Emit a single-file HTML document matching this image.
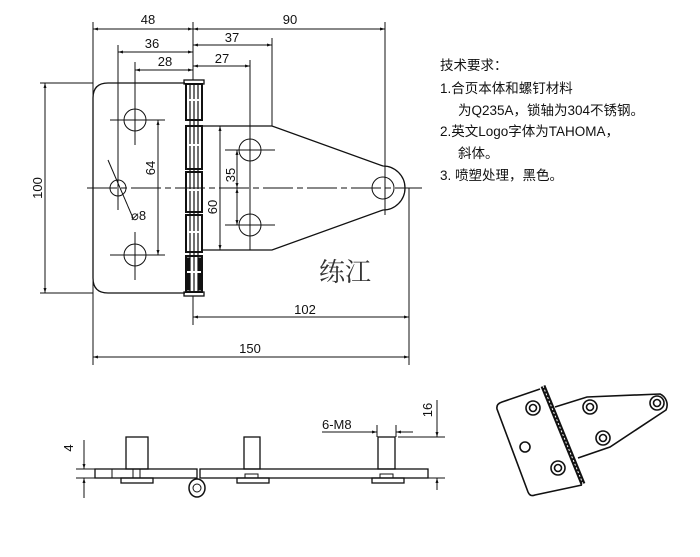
<!DOCTYPE html>
<html><head><meta charset="utf-8"><style>
body{margin:0;background:#fff}
svg text{font-family:"Liberation Sans","Noto Sans CJK SC",sans-serif;fill:#111}
</style></head><body>
<svg width="700" height="552" viewBox="0 0 700 552" xmlns="http://www.w3.org/2000/svg">
<defs><marker id="a" viewBox="0 0 10 10" refX="10" refY="5" markerWidth="7" markerHeight="5" orient="auto-start-reverse"><path d="M0,2 L10,5 L0,8z" fill="#111"/></marker></defs>
<g stroke="#111" fill="none" stroke-width="1">
<!-- left plate -->
<path d="M185,83 H108 Q93,83 93,98 V278 Q93,293 108,293 H185" stroke-width="1.3"/>
<!-- right plate -->
<path d="M202,126 H272 L383,166 A22,22 0 0 1 383,210 L272,250 H202" stroke-width="1.3"/>
<!-- hinge -->
<rect x="184" y="80" width="20" height="4" stroke-width="1.3"/>
<rect x="184" y="292" width="20" height="4" stroke-width="1.3"/>
<g stroke-width="2">
<rect x="186" y="84" width="16" height="36"/>
<rect x="186" y="126" width="16" height="43"/>
<rect x="186" y="172" width="16" height="40"/>
<rect x="186" y="215" width="16" height="37"/>
<rect x="186" y="256" width="16" height="36"/>
</g>
<g stroke-width="1.2">
<line x1="190" y1="84" x2="190" y2="292"/><line x1="194" y1="84" x2="194" y2="292"/><line x1="198" y1="84" x2="198" y2="292"/>
</g>
<rect x="186" y="258" width="4" height="32" fill="#111"/><rect x="198" y="258" width="4" height="32" fill="#111"/>
<g stroke="#fff" stroke-width="2"><line x1="187" y1="100" x2="201" y2="100"/><line x1="187" y1="145" x2="201" y2="145"/><line x1="187" y1="190" x2="201" y2="190"/><line x1="187" y1="232" x2="201" y2="232"/><line x1="187" y1="272" x2="201" y2="272"/></g>
<!-- holes -->
<circle cx="135" cy="120" r="11"/><circle cx="118" cy="188" r="8"/><circle cx="135" cy="255" r="11"/>
<circle cx="250" cy="150" r="11"/><circle cx="250" cy="225" r="11"/><circle cx="383" cy="188" r="11"/>
<!-- center lines -->
<line x1="87" y1="188" x2="422" y2="188" stroke-dasharray="30 4 6 4"/>
<line x1="110" y1="120" x2="165" y2="120"/><line x1="110" y1="255" x2="165" y2="255"/>
<line x1="225" y1="150" x2="275" y2="150"/><line x1="225" y1="225" x2="275" y2="225"/>
<line x1="135" y1="62" x2="135" y2="145"/><line x1="135" y1="232" x2="135" y2="280"/>
<line x1="118" y1="45" x2="118" y2="210"/>
<line x1="250" y1="60" x2="250" y2="250"/>
<line x1="272" y1="38" x2="272" y2="126"/>
<line x1="385" y1="22" x2="385" y2="215"/>
<line x1="193" y1="22" x2="193" y2="80"/><line x1="193" y1="296" x2="193" y2="325"/>
<line x1="93" y1="22" x2="93" y2="365"/>
<line x1="409" y1="188" x2="409" y2="365"/>
<line x1="40" y1="83" x2="93" y2="83"/><line x1="40" y1="293" x2="93" y2="293"/>
<!-- dims -->
<line x1="93" y1="29" x2="193" y2="29" marker-start="url(#a)" marker-end="url(#a)"/>
<line x1="193" y1="29" x2="385" y2="29" marker-start="url(#a)" marker-end="url(#a)"/>
<line x1="193" y1="45" x2="272" y2="45" marker-start="url(#a)" marker-end="url(#a)"/>
<line x1="118" y1="52" x2="193" y2="52" marker-start="url(#a)" marker-end="url(#a)"/>
<line x1="193" y1="66" x2="250" y2="66" marker-start="url(#a)" marker-end="url(#a)"/>
<line x1="135" y1="70" x2="193" y2="70" marker-start="url(#a)" marker-end="url(#a)"/>
<line x1="45" y1="83" x2="45" y2="293" marker-start="url(#a)" marker-end="url(#a)"/>
<line x1="158" y1="120" x2="158" y2="255" marker-start="url(#a)" marker-end="url(#a)"/>
<line x1="237" y1="150" x2="237" y2="188" marker-start="url(#a)" marker-end="url(#a)"/>
<line x1="237" y1="188" x2="237" y2="225" marker-start="url(#a)" marker-end="url(#a)"/>
<line x1="220" y1="126" x2="220" y2="250" marker-start="url(#a)" marker-end="url(#a)"/>
<line x1="193" y1="317" x2="409" y2="317" marker-start="url(#a)" marker-end="url(#a)"/>
<line x1="93" y1="357" x2="409" y2="357" marker-start="url(#a)" marker-end="url(#a)"/>
<line x1="108" y1="160" x2="133" y2="218"/>
<!-- bottom view -->
<rect x="95" y="469" width="102" height="9" stroke-width="1.3"/>
<rect x="200" y="469" width="228" height="9" stroke-width="1.3"/>
<rect x="126" y="437" width="22" height="32" stroke-width="1.3"/>
<rect x="244" y="437" width="16" height="32" stroke-width="1.3"/>
<rect x="378" y="437" width="17" height="32" stroke-width="1.3"/>
<line x1="112" y1="469" x2="112" y2="478"/><line x1="133" y1="469" x2="133" y2="478"/><line x1="140" y1="469" x2="140" y2="478"/>
<rect x="121" y="478" width="32" height="5" stroke-width="1.3"/>
<rect x="237" y="478" width="32" height="5" stroke-width="1.3"/>
<rect x="372" y="478" width="32" height="5" stroke-width="1.3"/>
<rect x="245" y="474" width="13" height="4"/><rect x="380" y="474" width="13" height="4"/>
<ellipse cx="197" cy="488" rx="8" ry="9" stroke-width="1.5"/><circle cx="197" cy="488" r="4"/>
<line x1="76" y1="469" x2="95" y2="469"/><line x1="76" y1="478" x2="95" y2="478"/>
<line x1="84" y1="440" x2="84" y2="469" marker-end="url(#a)"/>
<line x1="84" y1="498" x2="84" y2="478" marker-end="url(#a)"/>
<line x1="398" y1="437" x2="445" y2="437"/><line x1="428" y1="478" x2="445" y2="478"/>
<line x1="437" y1="400" x2="437" y2="437" marker-end="url(#a)"/>
<line x1="437" y1="490" x2="437" y2="478" marker-end="url(#a)"/>
<line x1="322" y1="432" x2="377" y2="432" marker-end="url(#a)"/>
<line x1="413" y1="432" x2="396" y2="432" marker-end="url(#a)"/>
<line x1="377" y1="425" x2="377" y2="437"/><line x1="396" y1="425" x2="396" y2="437"/>
<!-- iso -->
<g stroke-width="1.6">
<path d="M540,389 L502,402 Q496,404 497,409 L528,492 Q530,497 535,495 L582,485"/>
<path d="M555,407 L587,397 L660,394 A12,12 0 0 1 666,410 L610,447 L578,458"/>
<line x1="543" y1="386" x2="583" y2="484" stroke-width="5"/>
<line x1="543" y1="386" x2="583" y2="484" stroke="#fff" stroke-width="1" stroke-dasharray="2 2"/>
<circle cx="533" cy="408" r="7"/><circle cx="533" cy="408" r="3.5"/>
<circle cx="590" cy="407" r="7"/><circle cx="590" cy="407" r="3.5"/>
<circle cx="657" cy="403" r="7"/><circle cx="657" cy="403" r="3.5"/>
<circle cx="603" cy="438" r="7"/><circle cx="603" cy="438" r="3.5"/>
<circle cx="558" cy="468" r="7"/><circle cx="558" cy="468" r="3.5"/>
<circle cx="525" cy="447" r="5"/>
</g>
</g>
<g font-size="13">
<text x="148" y="24" text-anchor="middle">48</text>
<text x="290" y="24" text-anchor="middle">90</text>
<text x="232" y="42" text-anchor="middle">37</text>
<text x="152" y="48" text-anchor="middle">36</text>
<text x="222" y="63" text-anchor="middle">27</text>
<text x="165" y="66" text-anchor="middle">28</text>
<text x="305" y="314" text-anchor="middle">102</text>
<text x="250" y="353" text-anchor="middle">150</text>
<text transform="translate(42,188) rotate(-90)" text-anchor="middle">100</text>
<text transform="translate(155,168) rotate(-90)" text-anchor="middle">64</text>
<text transform="translate(235,175) rotate(-90)" text-anchor="middle">35</text>
<text transform="translate(217,207) rotate(-90)" text-anchor="middle">60</text>
<text x="131" y="220">⌀8</text>
<text x="322" y="429">6-M8</text>
<text transform="translate(73,448) rotate(-90)" text-anchor="middle">4</text>
<text transform="translate(432,410) rotate(-90)" text-anchor="middle">16</text>
</g>
<text x="345" y="281" font-size="26" text-anchor="middle" style="font-family:'Noto Serif CJK SC',serif;fill:#333">练江</text>
<g font-size="13.5">
<text x="440" y="70">技术要求：</text>
<text x="440" y="93">1.合页本体和螺钉材料</text>
<text x="458" y="115">为Q235A，锁轴为304不锈钢。</text>
<text x="440" y="136">2.英文Logo字体为TAHOMA，</text>
<text x="458" y="158">斜体。</text>
<text x="440" y="180">3. 喷塑处理，黑色。</text>
</g>
</svg>
</body></html>
